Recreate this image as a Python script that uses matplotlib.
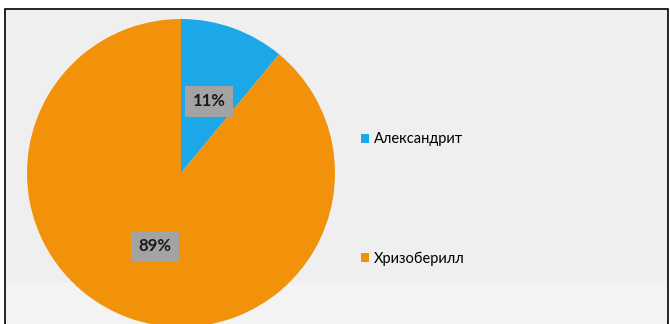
import matplotlib
matplotlib.use("Agg")
import matplotlib.pyplot as plt
from matplotlib.patches import Rectangle, Patch

categories = ["Александрит", "Хризоберилл"]
values = [11, 89]
labels = ["11%", "89%"]
colors = ["#1ba7e8", "#f2920b"]

plt.rcParams['font.family'] = ['Lato', 'DejaVu Sans']

W, H = 670, 324
fig = plt.figure(figsize=(W / 100, H / 100), dpi=100)
fig.patch.set_facecolor("white")
ax = fig.add_axes([0, 0, 1, 1])

# panel background with border
ax.add_patch(Rectangle((5, 0), 663, H - 9, facecolor="#efefef",
                       edgecolor="black", linewidth=1.2, zorder=0))
ax.add_patch(Rectangle((6, 0), 661, 41, facecolor="#f3f3f3",
                       edgecolor="none", zorder=0.5))

cx, cy, r = 181, 151, 154
wedges, _ = ax.pie(values, colors=colors, startangle=90, counterclock=False,
                   center=(cx, cy), radius=r, frame=True,
                   wedgeprops=dict(linewidth=0))
ax.set_xlim(0, W)
ax.set_ylim(0, H)
ax.set_aspect("equal")
ax.axis("off")

label_pos = [(209, H - 101), (155, H - 246)]
for (x, y), t in zip(label_pos, labels):
    ax.text(x, y, t, ha="center", va="center", fontsize=12, fontweight="bold",
            color="#1a1a1a", zorder=5,
            bbox=dict(boxstyle="square,pad=0.45", facecolor="#a3a3a3",
                      edgecolor="none"))

handles = [Patch(facecolor=c, edgecolor="none") for c in colors]
leg = fig.legend(handles, categories, loc="center left",
                 bbox_to_anchor=(348 / W, 1 - 199 / H), frameon=False,
                 fontsize=10.5, handlelength=0.55, handleheight=0.55,
                 handletextpad=0.3, labelspacing=7.2)

fig.savefig("out.png", dpi=100, facecolor=fig.get_facecolor())
